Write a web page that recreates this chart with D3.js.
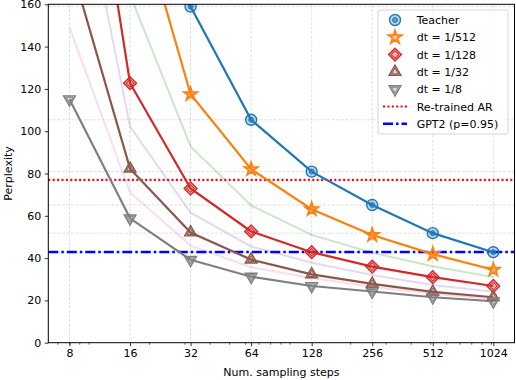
<!DOCTYPE html>
<html>
<head>
<meta charset="utf-8">
<script src="https://cdn.jsdelivr.net/npm/d3@7"></script>
<style>
  body { margin: 0; background: #fff; }
  text { font-family: "DejaVu Sans", sans-serif; }
</style>
</head>
<body>
<div id="chart"></div>
<script>
// data
var steps = [8, 16, 32, 64, 128, 256, 512, 1024];
var teacher = [520, 265, 158.9, 105.4, 80.9, 65.1, 51.8, 42.8];
var dt512 = [390, 217, 117.5, 82.0, 63.1, 50.9, 41.9, 34.5];
var dt256 = [300, 164.5, 92.8, 64.9, 51.0, 42.5, 36.1, 31.0];
var dt128 = [305, 122.7, 72.9, 52.6, 42.8, 36.0, 31.0, 26.8];
var dt64 = [245, 102.2, 61.5, 45.5, 37.8, 32.0, 27.3, 24.1];
var dt32 = [181, 82.3, 52.1, 39.3, 32.3, 27.8, 24.0, 21.5];
var dt16 = [149, 71.0, 45.9, 35.7, 30.6, 26.4, 23.2, 20.7];
var dt8 = [115.1, 58.8, 39.2, 31.2, 26.8, 24.2, 21.5, 19.6];
var retrainedAR = 77.0;
var gpt2 = 42.9;
var yTicks = [0, 20, 40, 60, 80, 100, 120, 140, 160];

var width = 516, height = 380;
var margin = { left: 48.3, right: 1.5, top: 4.3, bottom: 37.3 };

var svg = d3.select('#chart')
    .append('svg')
    .attr('width', width)
    .attr('height', height);

var x = d3.scaleLog().base(2)
    .domain([8 * Math.pow(2, -0.35), 1024 * Math.pow(2, 0.35)])
    .range([margin.left, width - margin.right]);
var y = d3.scaleLinear()
    .domain([0, 160])
    .range([height - margin.bottom, margin.top]);

svg.append('clipPath').attr('id', 'clip')
    .append('rect')
    .attr('x', margin.left).attr('y', margin.top)
    .attr('width', width - margin.left - margin.right)
    .attr('height', height - margin.top - margin.bottom);

// grid: vertical at steps, horizontal at the teacher values
var grid = svg.append('g').attr('clip-path', 'url(#clip)');
grid.selectAll('line.v')
    .data(steps)
    .enter().append('line')
    .attr('x1', function (d) { return x(d); })
    .attr('x2', function (d) { return x(d); })
    .attr('y1', margin.top).attr('y2', height - margin.bottom)
    .attr('stroke', '#b0b0b0').attr('stroke-opacity', 0.5)
    .attr('stroke-width', 0.8).attr('stroke-dasharray', '3,1.5');
grid.selectAll('line.h')
    .data(teacher.filter(function (d) { return d <= 160; }))
    .enter().append('line')
    .attr('x1', margin.left).attr('x2', width - margin.right)
    .attr('y1', function (d) { return y(d); })
    .attr('y2', function (d) { return y(d); })
    .attr('stroke', '#b0b0b0').attr('stroke-opacity', 0.5)
    .attr('stroke-width', 0.8).attr('stroke-dasharray', '3,1.5');

var line = d3.line()
    .x(function (d, i) { return x(steps[i]); })
    .y(function (d) { return y(d); });

var plot = svg.append('g').attr('clip-path', 'url(#clip)');

// faint series without markers
var faint = [
    { vals: dt256, color: '#2ca02c' },
    { vals: dt64, color: '#9467bd' },
    { vals: dt16, color: '#e377c2' }
];
faint.forEach(function (s) {
    plot.append('path')
        .attr('d', line(s.vals))
        .attr('fill', 'none')
        .attr('stroke', s.color)
        .attr('stroke-opacity', 0.25)
        .attr('stroke-width', 2);
});

// reference lines
plot.append('line')
    .attr('x1', margin.left).attr('x2', width - margin.right)
    .attr('y1', y(retrainedAR)).attr('y2', y(retrainedAR))
    .attr('stroke', '#ff0000').attr('stroke-width', 2.2)
    .attr('stroke-dasharray', '2,2.4');
plot.append('line')
    .attr('x1', margin.left).attr('x2', width - margin.right)
    .attr('y1', y(gpt2)).attr('y2', y(gpt2))
    .attr('stroke', '#0000ff').attr('stroke-width', 2.5)
    .attr('stroke-dasharray', '10,3,2.5,3');

var series = [
    { name: 'Teacher', vals: teacher, color: '#1f77b4', shape: 'circle' },
    { name: 'dt = 1/512', vals: dt512, color: '#ff7f0e', shape: 'star' },
    { name: 'dt = 1/128', vals: dt128, color: '#d62728', shape: 'diamond' },
    { name: 'dt = 1/32', vals: dt32, color: '#8c564b', shape: 'up' },
    { name: 'dt = 1/8', vals: dt8, color: '#7f7f7f', shape: 'down' }
];

function shapePath(shape, k) {
    if (shape === 'circle') return d3.symbol().type(d3.symbolCircle).size(95 * k * k)();
    if (shape === 'star') return d3.symbol().type(d3.symbolStar).size(62 * k * k)();
    if (shape === 'diamond') return d3.symbol().type(d3.symbolSquare).size(82 * k * k)();
    return d3.symbol().type(d3.symbolTriangle).size(60 * k * k)();
}
function rot(shape) {
    if (shape === 'diamond') return ' rotate(45)';
    if (shape === 'down') return ' rotate(180)';
    return '';
}
function drawMarker(g, s, cx, cy) {
    var m = g.append('g').attr('transform', 'translate(' + cx + ',' + cy + ')' + rot(s.shape));
    m.append('path')
        .attr('d', shapePath(s.shape, 1))
        .attr('fill', s.color).attr('fill-opacity', 0.3)
        .attr('stroke', s.color).attr('stroke-width', 1.4);
    m.append('path')
        .attr('d', shapePath(s.shape, s.shape === 'circle' ? 0.45 : 0.6))
        .attr('fill', s.shape === 'circle' ? s.color : 'none')
        .attr('fill-opacity', 0.6)
        .attr('stroke', s.color).attr('stroke-width', 1);
}

series.forEach(function (s) {
    plot.append('path')
        .attr('d', line(s.vals))
        .attr('fill', 'none')
        .attr('stroke', s.color)
        .attr('stroke-width', 2.2);
});
series.forEach(function (s) {
    s.vals.forEach(function (v, i) {
        if (v > 162) return;
        drawMarker(plot, s, x(steps[i]), y(v));
    });
});

// axes
var xAxis = d3.axisBottom(x)
    .tickValues(steps)
    .tickFormat(d3.format('d'))
    .tickSize(3.5).tickPadding(3.5);
var minor = [];
[1, 10, 100, 1000].forEach(function (p) {
    for (var k = 1; k < 10; k++) {
        var v = k * p;
        if (v > x.domain()[0] && v < x.domain()[1]) minor.push(v);
    }
});
var gx = svg.append('g')
    .attr('transform', 'translate(0,' + (height - margin.bottom) + ')')
    .call(xAxis);
gx.selectAll('line.minor')
    .data(minor)
    .enter().append('line')
    .attr('x1', function (d) { return x(d); })
    .attr('x2', function (d) { return x(d); })
    .attr('y1', 0).attr('y2', 2)
    .attr('stroke', '#000').attr('stroke-width', 0.6);

var gy = svg.append('g')
    .attr('transform', 'translate(' + margin.left + ',0)')
    .call(d3.axisLeft(y).tickValues(yTicks).tickSize(3.5).tickPadding(3.5));

[gx, gy].forEach(function (g) {
    g.select('.domain').remove();
    g.selectAll('text').attr('font-size', 11).attr('fill', '#000')
        .style('font-family', '"DejaVu Sans", sans-serif');
    g.selectAll('.tick line').attr('stroke', '#000').attr('stroke-width', 0.8);
});

// frame
svg.append('rect')
    .attr('x', margin.left).attr('y', margin.top)
    .attr('width', width - margin.left - margin.right)
    .attr('height', height - margin.top - margin.bottom)
    .attr('fill', 'none').attr('stroke', '#000').attr('stroke-width', 1);

svg.append('text')
    .attr('x', (margin.left + width - margin.right) / 2)
    .attr('y', 376)
    .attr('text-anchor', 'middle')
    .attr('font-size', 11)
    .text('Num. sampling steps');
svg.append('text')
    .attr('transform', 'translate(12,' + ((margin.top + height - margin.bottom) / 2) + ') rotate(-90)')
    .attr('text-anchor', 'middle')
    .attr('font-size', 11)
    .text('Perplexity');

// legend
var lg = svg.append('g').attr('transform', 'translate(378,10)');
lg.append('rect')
    .attr('width', 130).attr('height', 124).attr('rx', 2)
    .attr('fill', '#fff').attr('fill-opacity', 0.8)
    .attr('stroke', '#ccc').attr('stroke-width', 0.8);
var rowH = 17.3;
series.forEach(function (s, i) {
    var cy = 10 + i * rowH;
    drawMarker(lg, s, 17, cy);
    lg.append('text')
        .attr('x', 38.7).attr('y', cy + 4)
        .attr('font-size', 11)
        .text(s.name);
});
var refs = [
    { name: 'Re-trained AR', color: '#ff0000', dash: '2,2.4', w: 2.2 },
    { name: 'GPT2 (p=0.95)', color: '#0000ff', dash: '10,3,2.5,3', w: 2.5 }
];
refs.forEach(function (r, j) {
    var cy = 10 + (5 + j) * rowH;
    lg.append('line')
        .attr('x1', 5).attr('x2', 29)
        .attr('y1', cy).attr('y2', cy)
        .attr('stroke', r.color).attr('stroke-width', r.w)
        .attr('stroke-dasharray', r.dash);
    lg.append('text')
        .attr('x', 38.7).attr('y', cy + 4)
        .attr('font-size', 11)
        .text(r.name);
});
</script>
</body>
</html>
